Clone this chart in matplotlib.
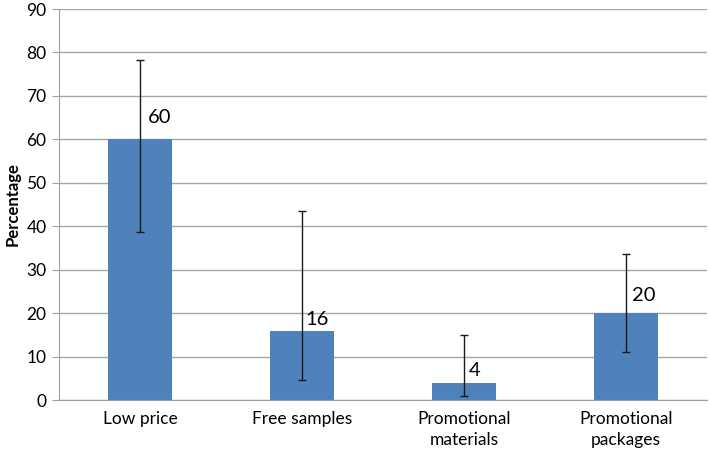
import matplotlib.pyplot as plt
import numpy as np

categories = ['Low price', 'Free samples', 'Promotional\nmaterials', 'Promotional\npackages']
values = [60, 16, 4, 20]
err_low = [38.7, 4.6, 1.0, 11.0]      # lower end of error bar
err_high = [78.3, 43.5, 15.0, 33.6]   # upper end of error bar
label_dy = [13, 3, 4, 9]              # label offset above bar (px)
label_dx = [8, 3, 5, 6]

plt.rcParams['font.family'] = ['Lato', 'DejaVu Sans']

fig = plt.figure(figsize=(7.09, 4.51), dpi=100)
ax = fig.add_axes([0.0832, 0.113, 0.914, 0.867])

x = np.arange(len(categories))
vals = np.array(values)
yerr = [vals - np.array(err_low), np.array(err_high) - vals]

ax.bar(x, vals, width=0.4, color='#4f81bd', zorder=2)
ax.errorbar(x, vals, yerr=yerr, fmt='none', ecolor='#1a1a1a', elinewidth=1, capsize=3, capthick=1, zorder=3)

for i, v in enumerate(values):
    ax.annotate(str(v), (x[i], v), xytext=(label_dx[i] * 0.72, label_dy[i] * 0.72),
                textcoords='offset points', ha='left', va='bottom', fontsize=14.5, color='black')

ax.set_xlim(-0.5, 3.5)
ax.set_ylim(0, 90)
ax.set_yticks(range(0, 91, 10))
ax.set_xticks(x)
ax.set_xticklabels(categories, fontsize=12.5, linespacing=1.35)
ax.tick_params(axis='y', labelsize=12.5, length=5, color='#a0a0a0', pad=4)
ax.tick_params(axis='x', length=0, pad=8)
ax.set_ylabel('Percentage', fontsize=12, fontweight='bold', labelpad=4)

ax.grid(axis='y', color='#a6a6a6', linewidth=1, zorder=0)
ax.set_axisbelow(True)
for s in ['top', 'right']:
    ax.spines[s].set_visible(False)
ax.spines['left'].set_color('#a0a0a0')
ax.spines['bottom'].set_color('#a0a0a0')

plt.savefig('out.png', dpi=100)
